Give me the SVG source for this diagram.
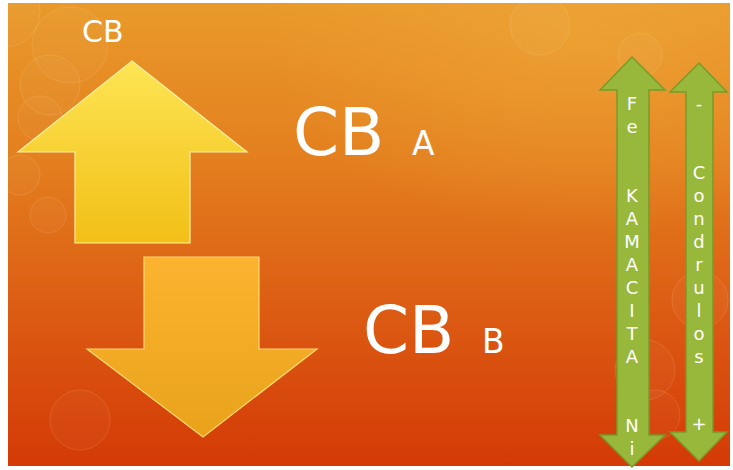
<svg xmlns="http://www.w3.org/2000/svg" width="733" height="470" viewBox="0 0 733 470">
<defs>
<linearGradient id="bg" x1="0" y1="0" x2="0" y2="1">
<stop offset="0" stop-color="#e99a2a"/>
<stop offset="0.35" stop-color="#e37e1e"/>
<stop offset="0.7" stop-color="#db5812"/>
<stop offset="1" stop-color="#d43a06"/>
</linearGradient>
<radialGradient id="glow" cx="0.8" cy="0.05" r="0.45">
<stop offset="0" stop-color="#f0a83a" stop-opacity="0.6"/>
<stop offset="1" stop-color="#f0a83a" stop-opacity="0"/>
</radialGradient>
<linearGradient id="up" x1="0" y1="0" x2="0" y2="1">
<stop offset="0" stop-color="#fde554"/>
<stop offset="1" stop-color="#f2bf16"/>
</linearGradient>
<linearGradient id="down" x1="0" y1="0" x2="0" y2="1">
<stop offset="0" stop-color="#fcb430"/>
<stop offset="1" stop-color="#e9a21a"/>
</linearGradient>
<style>
.bok{fill:#ffffff;fill-opacity:0.03;stroke:#ffe9b0;stroke-opacity:0.14;stroke-width:1}
.lbl{font-family:"DejaVu Sans","Liberation Sans",sans-serif;fill:#ffffff}
.grn{fill:#97b83a;stroke:#7a9a2a;stroke-width:1.5}
.vt{font-family:"DejaVu Sans","Liberation Sans",sans-serif;fill:#ffffff;font-size:18px;text-anchor:middle}
</style>
</defs>
<rect x="0" y="0" width="733" height="470" fill="#ffffff"/>
<rect x="8" y="3" width="722" height="463" fill="url(#bg)"/>
<rect x="8" y="3" width="722" height="463" fill="url(#glow)"/>
<g id="bokeh">
<circle class="bok" cx="5" cy="12" r="35"/>
<circle class="bok" cx="70" cy="45" r="38"/>
<circle class="bok" cx="50" cy="85" r="30"/>
<circle class="bok" cx="40" cy="118" r="22"/>
<circle class="bok" cx="20" cy="175" r="20"/>
<circle class="bok" cx="48" cy="215" r="18"/>
<circle class="bok" cx="640" cy="55" r="22"/>
<circle class="bok" cx="540" cy="25" r="30"/>
<circle class="bok" cx="645" cy="370" r="30"/>
<circle class="bok" cx="655" cy="415" r="25"/>
<circle class="bok" cx="700" cy="300" r="28"/>
<circle class="bok" cx="80" cy="420" r="30"/>
</g>
<g id="label-cb">
<text class="lbl" x="82" y="42" font-size="30">CB</text>
</g>
<g id="arrow-up">
<polygon points="132,61 247,152 190,152 190,243 75,243 75,152 18,152" fill="url(#up)" stroke="#fff1a0" stroke-width="1.2"/>
</g>
<g id="arrow-down">
<polygon points="144,257 259,257 259,349 317,349 203,437 87,349 144,349" fill="url(#down)" stroke="#ffd870" stroke-width="1.2"/>
</g>
<g id="label-cba">
<text class="lbl" x="293" y="155" font-size="66">CB</text>
<text class="lbl" x="412" y="155" font-size="33">A</text>
</g>
<g id="label-cbb">
<text class="lbl" x="363" y="353" font-size="66">CB</text>
<text class="lbl" x="482" y="353" font-size="33">B</text>
</g>
<g id="arrow-fe-ni">
<polygon class="grn" points="632,57 665,90 649,90 649,435 665,435 632,467 600,435 617,435 617,90 600,90"/>
<text class="vt" x="632" y="110">F</text>
<text class="vt" x="632" y="133">e</text>
<text class="vt" x="632" y="202">K</text>
<text class="vt" x="632" y="225">A</text>
<text class="vt" x="632" y="248">M</text>
<text class="vt" x="632" y="271">A</text>
<text class="vt" x="632" y="294">C</text>
<text class="vt" x="632" y="317">I</text>
<text class="vt" x="632" y="340">T</text>
<text class="vt" x="632" y="363">A</text>
<text class="vt" x="632" y="432">N</text>
<text class="vt" x="632" y="455">i</text>
</g>
<g id="arrow-condrulos">
<polygon class="grn" points="699,63 727,92 713,92 713,432 727,432 699,461 670,432 686,432 686,92 670,92"/>
<text class="vt" x="699" y="110">-</text>
<text class="vt" x="699" y="179">C</text>
<text class="vt" x="699" y="202">o</text>
<text class="vt" x="699" y="225">n</text>
<text class="vt" x="699" y="248">d</text>
<text class="vt" x="699" y="271">r</text>
<text class="vt" x="699" y="294">u</text>
<text class="vt" x="699" y="317">l</text>
<text class="vt" x="699" y="340">o</text>
<text class="vt" x="699" y="363">s</text>
<text class="vt" x="699" y="430">+</text>
</g>
</svg>
